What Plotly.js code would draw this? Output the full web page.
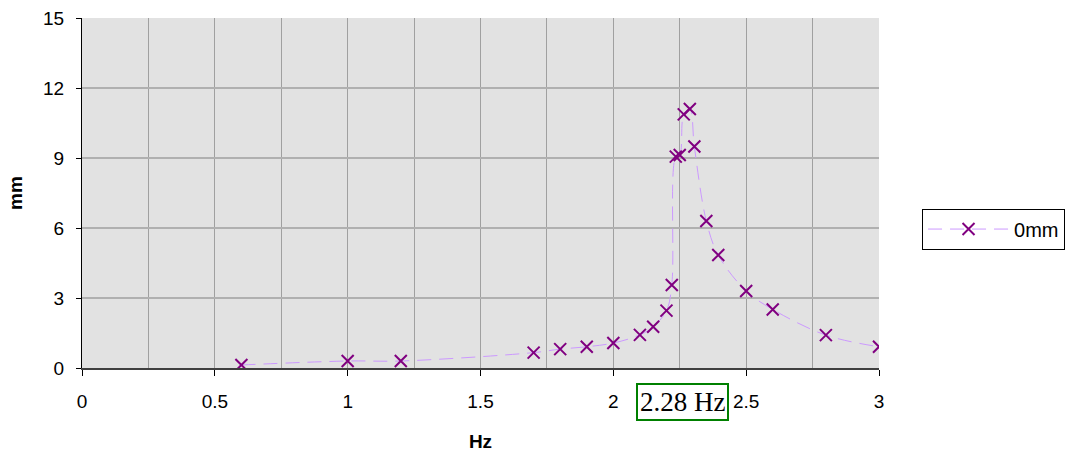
<!DOCTYPE html>
<html>
<head>
<meta charset="utf-8">
<script src="https://cdn.plot.ly/plotly-3.0.1.min.js"></script>
<style>html,body{margin:0;padding:0;background:#fff;}#chart{width:1069px;height:453px;}</style>
</head>
<body>
<div id="chart"></div>
<script>
const freqHz = [0.6, 1.0, 1.2, 1.7, 1.8, 1.9, 2.0, 2.1, 2.15, 2.2, 2.22, 2.235, 2.25, 2.265, 2.288, 2.305, 2.35, 2.395, 2.5, 2.6, 2.8, 3.0];
const amplitudeMm = [0.13, 0.3, 0.3, 0.66, 0.81, 0.91, 1.07, 1.42, 1.77, 2.46, 3.56, 9.06, 9.13, 10.87, 11.1, 9.49, 6.3, 4.84, 3.3, 2.51, 1.41, 0.91];
const seriesName = '0mm';
const yTicks = [0, 3, 6, 9, 12, 15];
const xTicks = [0, 0.5, 1, 1.5, 2, 2.5, 3];
const xTickLabels = ['0', '0.5', '1', '1.5', '2', '2.5', '3'];
const peakLabel = '2.28 Hz';
const peakLabelX = 2.262;

const font = 'Liberation Sans, Arial, sans-serif';

const trace = {
  x: freqHz,
  y: amplitudeMm,
  name: seriesName,
  type: 'scatter',
  mode: 'lines+markers',
  line: {color: '#cc99ff', width: 1, dash: '14px,8px', shape: 'spline', smoothing: 1},
  marker: {symbol: 'x-thin', size: 12, color: '#800080', line: {color: '#800080', width: 2}}
};

const layout = {
  width: 1069,
  height: 453,
  margin: {l: 82, r: 190, t: 18, b: 85, pad: 0, autoexpand: false},
  paper_bgcolor: '#ffffff',
  plot_bgcolor: '#e2e2e2',
  font: {family: font, size: 19, color: '#000'},
  showlegend: true,
  legend: {
    x: 1.054, xanchor: 'left', y: 0.397, yanchor: 'middle',
    bgcolor: '#ffffff', bordercolor: '#000000', borderwidth: 1,
    font: {family: font, size: 20, color: '#000'},
    itemwidth: 81
  },
  xaxis: {
    range: [0, 3],
    tickmode: 'array', tickvals: xTicks, ticktext: xTickLabels,
    ticks: 'outside', ticklen: 6, tickcolor: '#000', tickwidth: 1,
    showgrid: true, gridcolor: '#a0a0a0', gridwidth: 1,
    minor: {dtick: 0.25, tick0: 0, showgrid: true, gridcolor: '#a0a0a0', gridwidth: 1, ticks: ''},
    showline: true, linecolor: '#404040', linewidth: 2,
    zeroline: false,
    ticklabelstandoff: 9,
    tickfont: {family: font, size: 19, color: '#000'},
    title: {text: '<b>Hz</b>', font: {family: font, size: 19, color: '#000'}, standoff: 24}
  },
  yaxis: {
    range: [0, 15],
    tickmode: 'array', tickvals: yTicks,
    ticks: 'outside', ticklen: 5, tickcolor: '#000', tickwidth: 1,
    showgrid: true, gridcolor: '#b0b0b0', gridwidth: 2,
    showline: true, linecolor: '#000', linewidth: 1,
    zeroline: false,
    ticklabelstandoff: 8,
    tickfont: {family: font, size: 19, color: '#000'},
    title: {text: '<b>mm</b>', font: {family: font, size: 19, color: '#000'}, standoff: 15}
  },
  annotations: [{
    x: peakLabelX, xref: 'x',
    y: -0.096, yref: 'paper', yanchor: 'middle', xanchor: 'center',
    text: peakLabel, showarrow: false,
    font: {family: 'Liberation Serif, Times New Roman, serif', size: 27, color: '#000'},
    bgcolor: '#ffffff', bordercolor: '#008000', borderwidth: 2, borderpad: 2
  }]
};

Plotly.newPlot('chart', [trace], layout, {staticPlot: true, displayModeBar: false});
</script>
</body>
</html>
